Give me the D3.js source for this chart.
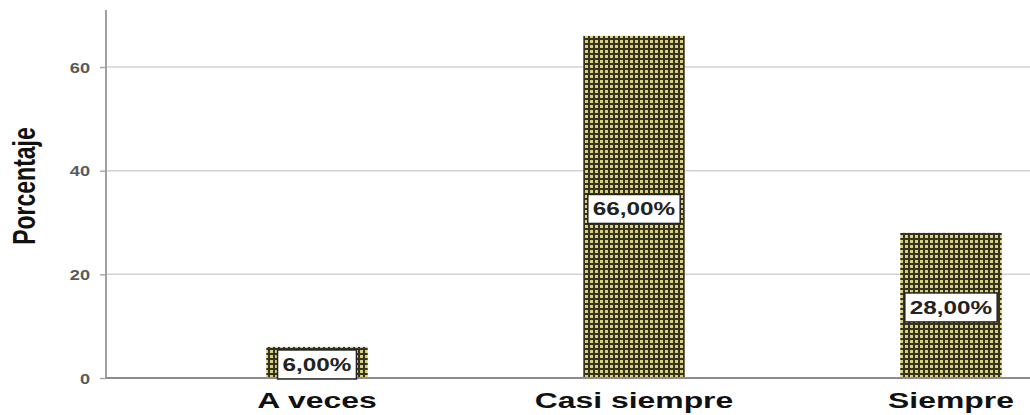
<!DOCTYPE html>
<html>
<head>
<meta charset="utf-8">
<script src="https://cdn.jsdelivr.net/npm/d3@7"></script>
<style>
  html, body { margin: 0; padding: 0; background: #fff; }
  svg { display: block; }
</style>
</head>
<body>
<svg id="chart" width="1030" height="415"></svg>
<script>
// Response categories and their percentages
const categories = ["A veces", "Casi siempre", "Siempre"];
const percentages = [6, 66, 28];
const valueLabels = ["6,00%", "66,00%", "28,00%"];
const yTicks = [0, 20, 40, 60];
const yTitle = "Porcentaje";

const svg = d3.select("#chart");
const W = 1030;
const axisX = 106, baseY = 378, topY = 10;
const FONT = "'Liberation Sans', Arial, sans-serif";

const y = d3.scaleLinear().domain([0, 71]).range([baseY, topY]);
const x = d3.scaleBand().domain(categories).range([158.5, 1109.5])
  .paddingInner(0.68).paddingOuter(0.34);

// Checkered fill used for the bars
const defs = svg.append("defs");
const pat = defs.append("pattern").attr("id", "check")
  .attr("patternUnits", "userSpaceOnUse").attr("width", 5).attr("height", 5);
pat.append("rect").attr("width", 5).attr("height", 5).attr("fill", "#d8d07c");
pat.append("rect").attr("x", 3).attr("width", 2).attr("height", 5).attr("fill", "#35331f");
pat.append("rect").attr("y", 3).attr("width", 5).attr("height", 2).attr("fill", "#35331f");

// Horizontal gridlines
svg.append("g").selectAll("line").data(yTicks.filter(d => d > 0)).join("line")
  .attr("x1", axisX).attr("x2", W)
  .attr("y1", d => y(d)).attr("y2", d => y(d))
  .attr("stroke", "#d2d2d2").attr("stroke-width", 1.5);

// Bars
svg.append("g").selectAll("rect").data(categories).join("rect")
  .attr("x", d => x(d)).attr("width", x.bandwidth())
  .attr("y", (d, i) => y(percentages[i]))
  .attr("height", (d, i) => baseY - y(percentages[i]))
  .attr("fill", "url(#check)");

// Y axis: ticks and wide tick labels
const yAxis = svg.append("g").attr("transform", `translate(${axisX},0)`)
  .call(d3.axisLeft(y).tickValues(yTicks).tickSize(6).tickFormat(""));
yAxis.select(".domain").remove();
yAxis.selectAll(".tick line").attr("stroke", "#aaa").attr("stroke-width", 1.5);
yAxis.selectAll(".tick").append("text")
  .attr("transform", "translate(-16,0) scale(1.3,1)")
  .attr("x", 0).attr("dy", "0.36em").attr("text-anchor", "end")
  .attr("fill", "#5a5a5a")
  .style("font-family", FONT).style("font-size", "14px").style("font-weight", "bold")
  .text(d => d3.format("d")(d));
svg.append("line").attr("x1", axisX).attr("x2", axisX).attr("y1", topY).attr("y2", baseY)
  .attr("stroke", "#a0a0a0").attr("stroke-width", 2);

// X axis baseline and category labels
svg.append("line").attr("x1", axisX).attr("x2", W).attr("y1", baseY).attr("y2", baseY)
  .attr("stroke", "#8c8c8c").attr("stroke-width", 2);
const xAxis = svg.append("g").attr("transform", `translate(0,${baseY})`)
  .call(d3.axisBottom(x).tickSize(0).tickFormat(""));
xAxis.select(".domain").remove();
xAxis.selectAll(".tick").append("text")
  .attr("transform", "translate(0,30) scale(1.45,1)")
  .attr("text-anchor", "middle").attr("fill", "#111")
  .style("font-family", FONT).style("font-size", "22px").style("font-weight", "bold")
  .text(d => d);

// Y axis title
svg.append("text").attr("transform", `translate(35,186) rotate(-90) scale(1,1.4)`)
  .attr("text-anchor", "middle").attr("fill", "#111")
  .style("font-family", FONT).style("font-size", "23px").style("font-weight", "bold")
  .text(yTitle);

// Value labels in white boxes at bar mid-height
const LBL_SX = 1.35;
const lbl = svg.append("g").selectAll("g").data(categories).join("g")
  .attr("transform", (d, i) => `translate(${x(d) + x.bandwidth() / 2},${(y(percentages[i]) + baseY) / 2 + 2})`);
const lblRect = lbl.append("rect").attr("fill", "#fff").attr("stroke", "#222").attr("stroke-width", 1.5);
const lblText = lbl.append("text").attr("text-anchor", "middle").attr("dy", "0.36em")
  .attr("transform", `scale(${LBL_SX},1)`)
  .style("font-family", FONT).style("font-size", "18px").style("font-weight", "bold").attr("fill", "#222")
  .text((d, i) => valueLabels[i]);
lblText.each(function (d, i) {
  const w = this.getComputedTextLength() * LBL_SX + 10;
  d3.select(lblRect.nodes()[i]).attr("x", -w / 2).attr("y", -14.5).attr("width", w).attr("height", 29);
});
</script>
</body>
</html>
